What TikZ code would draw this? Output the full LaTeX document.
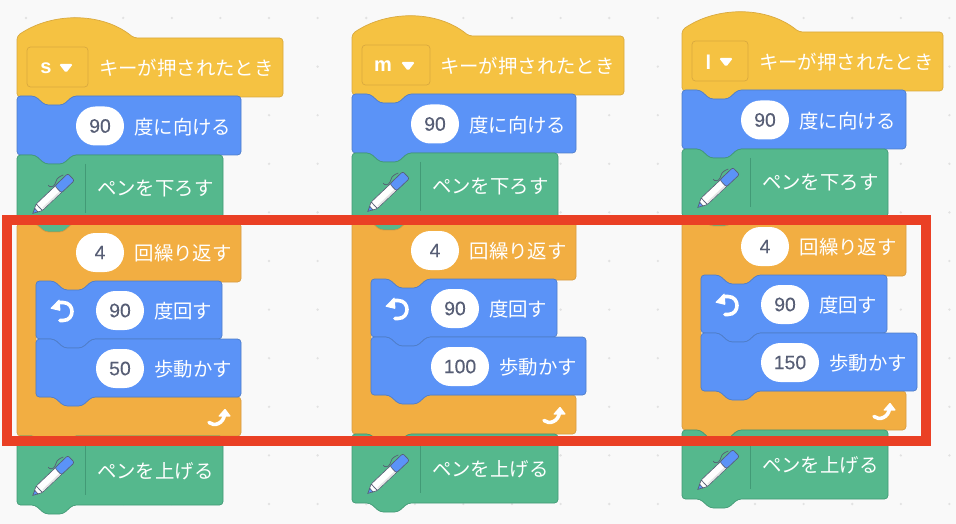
\documentclass[tikz,border=0pt]{standalone}
\usepackage{fontspec}
\setmainfont{Noto Sans CJK JP}
\newfontfamily\numfont[FakeBold=0.25]{Liberation Sans}
\newfontfamily\keyfont{Liberation Sans Bold}
\definecolor{bgc}{HTML}{F9F9F9}
\definecolor{dotc}{HTML}{E2E2E2}
\definecolor{yel}{HTML}{F5C242}
\definecolor{yelD}{HTML}{D9A93F}
\definecolor{blu}{HTML}{5B93F7}
\definecolor{bluD}{HTML}{4F7DC8}
\definecolor{grn}{HTML}{55B88D}
\definecolor{grnD}{HTML}{429A76}
\definecolor{org}{HTML}{F2AE42}
\definecolor{orgD}{HTML}{D69C42}
\definecolor{redf}{HTML}{EA4025}
\definecolor{txtd}{HTML}{575E75}
\tikzset{
  yelblock/.style={fill=yel,draw=yelD,line width=.7pt},
  blublock/.style={fill=blu,draw=bluD,line width=.7pt},
  grnblock/.style={fill=grn,draw=grnD,line width=.7pt},
  orgblock/.style={fill=org,draw=orgD,line width=.7pt},
  label/.style={text=white,inner sep=0pt,font=\fontsize{19.4}{19.4}\selectfont,anchor=center},
  pill/.style={fill=white,inner sep=0pt,minimum height=39pt,rounded corners=19.4pt,text=txtd,font=\numfont\fontsize{19.4}{19.4}\selectfont,anchor=center},
  keytxt/.style={text=white,inner sep=0pt,font=\keyfont\fontsize{20}{20}\selectfont,anchor=center},
  penline/.style={draw=txtd,line width=.65pt,line join=round},
}
\newcommand{\blk}[5]{%
  \draw[#5,rounded corners=3.5pt] (#1,#2+10) -- (#1,#2) -- ({#1+18},#2) -- ({#1+28},#2+9) -- ({#1+46},#2+9) -- ({#1+56},#2)
    -- (#3,#2) -- (#3,#4) -- ({#1+56},#4) -- ({#1+46},#4+9) -- ({#1+28},#4+9) -- ({#1+18},#4) -- (#1,#4) -- cycle;}
\newcommand{\penicon}[2]{%
  \begin{scope}[shift={(#1,#2)}]
    \draw[txtd,line width=.7pt] (15.6,-28.5) .. controls (16,-26) and (21,-26) .. (22.3,-29.5) .. controls (23,-33) and (24,-36) .. (30.6,-38.5);
    \begin{scope}[rotate=43.5]
      \filldraw[penline,fill=white,rounded corners=1pt] (9,-4.5) -- (37,-4.5) -- (37,4.5) -- (9,4.5) -- cycle;
      \fill[fill=black!10] (11,2.4) -- (36.5,2.4) -- (36.5,4) -- (11,4) -- cycle;
      \filldraw[penline,fill=white] (4,-2) -- (9,-4.5) -- (9,4.5) -- (4,2) -- cycle;
      \filldraw[penline,fill=blu] (0,0) -- (5,-2.3) -- (5,2.3) -- cycle;
      \filldraw[penline,fill=blu,rounded corners=2pt] (35,-4.8) -- (53,-4.8) -- (53,4.8) -- (35,4.8) -- cycle;
    \end{scope}
  \end{scope}}
\begin{document}
\begin{tikzpicture}[x=1pt,y=-1pt]
\useasboundingbox (0,0) rectangle (956,524);
\fill[bgc] (0,0) rectangle (956,524);
\foreach \i in {0,...,19} \foreach \j in {0,...,10}
  \fill[dotc] ({26+48.6*\i},{18+48.6*\j}) circle[radius=1.3pt];
\foreach \dx/\dy/\id/\key/\hatr/\dropr/\keyx/\trix/\br/\pr/\num in {
  0/0/a/s/283/88/46/66/241/144/50,
  335/-2/b/m/289/95/48/73/251/154/100,
  665/-6/c/l/278/83/43.5/61/252/154/150}{
\begin{scope}[shift={(\dx,\dy)}]
  % hat block
  \draw[yelblock,rounded corners=3.5pt] (17,46) -- (17,36) .. controls (52,12) and (102,12) .. (134,38) -- (\hatr,38) -- (\hatr,97)
     -- (73,97) -- (63,106) -- (45,106) -- (35,97) -- (17,97) -- cycle;
  \node[draw=yelD,fill=yel,line width=.7pt,rounded corners=3.5pt,minimum height=40pt,minimum width=(\dropr-27)*1pt,inner sep=0pt,anchor=center] (drop\id) at ({(27+\dropr)/2},67) {};
  \node[keytxt] (key\id) at (\keyx,68) {\key};
  \fill[white,rounded corners=1.6pt] (\trix-7,64) -- (\trix+7,64) -- (\trix,73) -- cycle;
  \node[label] (hat\id) at (\hatr-96.7,68.2) {キーが押されたとき};
  % point in direction
  \blk{17}{96}{241}{155}{blublock}
  \node[pill,minimum width=48pt] (dir\id) at (100,126) {90};
  \node[label] (dirt\id) at (182.8,126.7) {度に向ける};
  % pen down
  \blk{17}{155}{223}{223}{grnblock}
  \draw[grnD,line width=.7pt] (85.5,164) -- (85.5,213);
  \penicon{32.7}{213.5}
  \node[label] (pend\id) at (155.2,189) {ペンを下ろす};
  % repeat
  \draw[orgblock,rounded corners=3.5pt] (17,233) -- (17,223) -- (35,223) -- (45,232) -- (63,232) -- (73,223) -- (241,223) -- (241,282)
     -- (92,282) -- (82,291) -- (64,291) -- (54,282) -- (36,282) -- (36,397) -- (241,397) -- (241,436)
     -- (73,436) -- (63,445) -- (45,445) -- (35,436) -- (17,436) -- cycle;
  \node[pill,minimum width=48pt] (rep\id) at (100,252.5) {4};
  \node[label] (rept\id) at (183.2,253.2) {回繰り返す};
  % turn
  \blk{36}{281}{222}{339}{blublock}
  \draw[white,line width=3.6pt,line cap=round] (58,302.5) -- (63,302.5) .. controls (75,302.5) and (75,320.5) .. (63,320.5) -- (60,320.5);
  \fill[white,rounded corners=.8pt] (50,308.5) -- (59.5,299) -- (60.5,311) -- cycle;
  \node[pill,minimum width=48pt] (turn\id) at (120,310.5) {90};
  \node[label] (turnt\id) at (183.2,310.8) {度回す};
  % move
  \blk{36}{339}{\br}{397}{blublock}
  \node[pill,minimum width=(\pr-96)*1pt] (mov\id) at ({(96+\pr)/2},368.5) {\num};
  \node[label,anchor=west] (movt\id) at (\pr+10,369.2) {歩動かす};
  % return arrow
  \draw[white,line width=3.6pt,line cap=round] (224.5,414) .. controls (224,423.5) and (214,427) .. (209,422.5);
  \fill[white,rounded corners=.8pt] (225,408.5) -- (231,416.5) -- (218,416.5) -- cycle;
  % pen up
  \blk{17}{436}{223}{505}{grnblock}
  \draw[grnD,line width=.7pt] (85.5,445) -- (85.5,495);
  \penicon{32.7}{495.5}
  \node[label] (penu\id) at (155.2,471.5) {ペンを上げる};
\end{scope}}
\draw[redf,line width=10pt] (7,220) rectangle (926,441);
\end{tikzpicture}
\end{document}
